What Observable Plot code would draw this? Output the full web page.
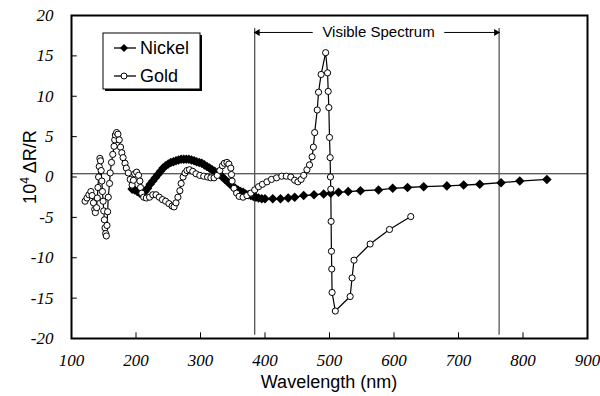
<!DOCTYPE html>
<html>
<head>
<meta charset="utf-8">
<script src="https://cdn.jsdelivr.net/npm/d3@7"></script>
<script src="https://cdn.jsdelivr.net/npm/@observablehq/plot@0.6"></script>
<style>
  html, body { margin: 0; padding: 0; background: #fff; }
  #chart { position: relative; width: 600px; height: 396px; }
</style>
</head>
<body>
<div id="chart"></div>
<script>
// ---- data ----
const nickelWl = [194,198,202,206,210,214,218,222,226,230,234,238,242,246,250,254,258,262,266,270,274,278,282,286,290,294,298,302,306,310,314,318,322,326,330,334,338,342,346,350,354,358,362,366,370,374,378,382,386,390,395,400,412,424,436,446,460,476,491,502,514,529,548,576,598,621,646,682,708,733,766,795,837];
const nickelVal = [-1.5,-1.6,-1.8,-2.0,-2.0,-1.8,-1.4,-0.9,-0.5,-0.1,0.3,0.7,1.1,1.4,1.6,1.8,1.9,2.0,2.1,2.2,2.2,2.2,2.2,2.1,2.0,1.9,1.8,1.7,1.5,1.3,1.1,0.9,0.7,0.5,0.3,0.0,-0.3,-0.6,-0.9,-1.2,-1.4,-1.6,-1.8,-1.9,-2.1,-2.2,-2.3,-2.4,-2.5,-2.6,-2.7,-2.7,-2.7,-2.7,-2.6,-2.5,-2.3,-2.2,-2.1,-2.0,-1.9,-1.8,-1.7,-1.6,-1.4,-1.3,-1.2,-1.1,-1.0,-0.9,-0.7,-0.5,-0.3];

const goldWl = [121,124,127,130,132,134,136,137,139,140,141,142,143,144,145,146,147,148,149,150,151,152,153,154,155,156,157,159,160,162,164,166,167,168,170,172,174,176,178,180,183,185,188,191,194,196,198,201,204,206,207,209,212,216,221,226,231,236,241,246,251,256,259,262,265,268,270,273,276,279,283,288,293,299,305,311,316,321,326,330,334,337,341,344,347,348,349,352,356,360,366,372,378,384,390,396,403,410,418,426,433,440,446,451,456,460,465,469,473,475,477,481,483,487,494,497,498,499,500,501,501.5,502,502.5,503,503.5,504,509,532,535,538,563,593,626];
const goldVal = [-3.0,-2.6,-2.2,-1.8,-2.3,-3.2,-4.0,-4.4,-3.8,-2.6,-1.3,0.0,1.3,2.3,2.0,0.8,-0.5,-1.8,-3.0,-4.2,-5.3,-6.3,-7.0,-7.3,-6.0,-4.3,-2.5,-0.8,0.5,1.8,2.8,3.8,4.6,5.2,5.5,5.3,4.6,3.7,3.0,2.4,1.7,1.1,0.5,-0.3,-1.0,-0.4,0.4,0.6,0.2,-0.5,-1.3,-2.0,-2.5,-2.6,-2.5,-2.2,-2.2,-2.5,-2.8,-3.0,-3.3,-3.6,-3.7,-3.2,-2.5,-1.7,-0.8,0.0,0.5,0.8,0.9,0.7,0.4,0.2,0.1,0.0,-0.1,-0.1,0.2,0.8,1.4,1.7,1.8,1.6,1.1,0.3,-0.5,-1.4,-2.0,-2.4,-2.5,-2.3,-2.0,-1.6,-1.2,-0.9,-0.6,-0.3,-0.1,0.1,0.1,0.0,-0.4,-0.6,-0.3,0.2,0.9,1.5,2.5,3.7,5.5,8.3,10.5,12.7,15.4,12.9,10.6,8.6,4.9,2.4,0.0,-1.5,-5.5,-9.2,-11.4,-14.3,-16.6,-14.8,-12.5,-10.3,-8.3,-6.5,-4.9];

const xTicks = [100,200,300,400,500,600,700,800,900];
const yTicks = [-20,-15,-10,-5,0,5,10,15,20];
const visibleBounds = [384, 763];
const visibleLabel = "Visible Spectrum";
const baselineValue = 0.4;
const seriesNames = ["Nickel", "Gold"];

const nickel = nickelWl.map((w, i) => ({wl: w, v: nickelVal[i]}));
const gold = goldWl.map((w, i) => ({wl: w, v: goldVal[i]}));

const sans = "Liberation Sans, Arial, sans-serif";
const serif = "Liberation Serif, DejaVu Serif, Times New Roman, serif";

const innerTicksX = xTicks.slice(1, -1);
const innerTicksY = yTicks.slice(1, -1);

const plot = Plot.plot({
  width: 600,
  height: 396,
  marginLeft: 71,
  marginRight: 13,
  marginTop: 15,
  marginBottom: 58,
  style: {background: "#fff", overflow: "visible"},
  x: {domain: [100, 900], axis: null},
  y: {domain: [-20, 20], axis: null},
  marks: [
    // tick labels (italic serif)
    Plot.text(xTicks, {x: d => d, frameAnchor: "bottom", dy: 27, text: d => `${d}`,
      fontFamily: serif, fontStyle: "italic", fontSize: 17, fill: "#000"}),
    Plot.text(yTicks, {y: d => d, frameAnchor: "left", dx: -18, textAnchor: "end", text: d => `${d}`,
      fontFamily: serif, fontStyle: "italic", fontSize: 17, fill: "#000"}),
    // inward tick marks
    Plot.ruleX(innerTicksX, {y1: -20, y2: -19.3, stroke: "#000", strokeWidth: 1}),
    Plot.ruleY(innerTicksY, {x1: 100, x2: 109, stroke: "#000", strokeWidth: 1}),
    // horizontal reference line
    Plot.ruleY([baselineValue], {stroke: "#222", strokeWidth: 1}),
    // visible spectrum bounds
    Plot.ruleX(visibleBounds, {y1: -19.6, y2: 18.4, stroke: "#555", strokeWidth: 1.3}),
    Plot.link([{a: 474, b: visibleBounds[0]}, {a: 678, b: visibleBounds[1]}], {x1: "a", x2: "b", y1: 17.9, y2: 17.9, stroke: "#000", strokeWidth: 1}),
    Plot.dot([visibleBounds[0]], {x: d => d, y: 17.9, symbol: "triangle", r: 2.6, fill: "#000", rotate: -90, dx: 3}),
    Plot.dot([visibleBounds[1]], {x: d => d, y: 17.9, symbol: "triangle", r: 2.6, fill: "#000", rotate: 90, dx: -3}),
    Plot.text([visibleLabel], {x: 576, y: 17.9, fontSize: 15, fontFamily: sans, fill: "#000"}),
    // Nickel
    Plot.line(nickel, {x: "wl", y: "v", stroke: "#000", strokeWidth: 1.3}),
    Plot.dot(nickel, {x: "wl", y: "v", symbol: "diamond2", r: 4.3, fill: "#000", stroke: "none"}),
    // Gold
    Plot.line(gold, {x: "wl", y: "v", stroke: "#000", strokeWidth: 1.2}),
    Plot.dot(gold, {x: "wl", y: "v", symbol: "circle", r: 3.1, fill: "#fff", stroke: "#000", strokeWidth: 1}),
    Plot.frame({stroke: "#000", strokeWidth: 2})
  ]
});

document.getElementById("chart").appendChild(plot);

const svg = d3.select(plot);

// axis titles
svg.append("text")
  .attr("x", 329).attr("y", 383)
  .attr("text-anchor", "middle").attr("dominant-baseline", "middle")
  .attr("font-family", sans).attr("font-size", 18).attr("fill", "#000")
  .text("Wavelength (nm)");

const yt = svg.append("text")
  .attr("transform", "translate(36,167) rotate(-90)")
  .attr("text-anchor", "middle")
  .attr("font-family", sans).attr("font-size", 18).attr("fill", "#000");
yt.append("tspan").text("10");
yt.append("tspan").attr("dy", -7).attr("font-size", 12).text("4");
yt.append("tspan").attr("dy", 7).text(" \u0394R/R");

// legend
const lg = svg.append("g").attr("transform", "translate(103,33)");
lg.append("rect").attr("x", 2).attr("y", 2).attr("width", 97).attr("height", 56).attr("fill", "#000");
lg.append("rect").attr("x", 0).attr("y", 0).attr("width", 97).attr("height", 56).attr("fill", "#fff").attr("stroke", "#000").attr("stroke-width", 1);
const rowY = [15, 43];
seriesNames.forEach((name, i) => {
  const g = lg.append("g").attr("transform", `translate(0,${rowY[i]})`);
  g.append("line").attr("x1", 11).attr("x2", 33).attr("y1", 0).attr("y2", 0).attr("stroke", "#000").attr("stroke-width", 1.3);
  if (i === 0) {
    g.append("path").attr("d", "M21,-4L25,0L21,4L17,0Z").attr("fill", "#000");
  } else {
    g.append("circle").attr("cx", 21).attr("cy", 0).attr("r", 3).attr("fill", "#fff").attr("stroke", "#000");
  }
  g.append("text").attr("x", 37).attr("y", 0).attr("dominant-baseline", "central")
    .attr("text-anchor", "start")
    .attr("font-family", sans).attr("font-size", 18).attr("fill", "#000").text(name);
});
</script>
</body>
</html>
